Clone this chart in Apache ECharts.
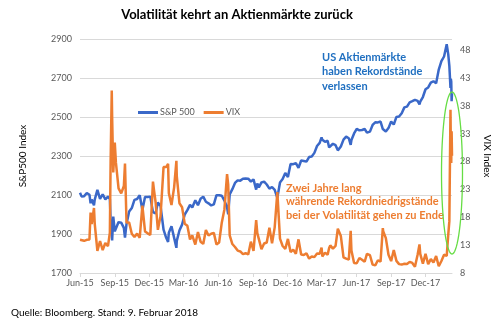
<!DOCTYPE html>
<html><head><meta charset="utf-8">
<script src="https://cdn.jsdelivr.net/npm/echarts@6/dist/echarts.min.js"></script>
<style>html,body{margin:0;padding:0;background:#fff}#c{width:500px;height:321px}</style>
</head><body><div id="c"></div>
<script>
const dates = ['2015-06-01','2015-06-05','2015-06-12','2015-06-19','2015-06-26','2015-06-29','2015-07-02','2015-07-08','2015-07-10','2015-07-17','2015-07-24','2015-07-31','2015-08-07','2015-08-14','2015-08-19','2015-08-21','2015-08-24','2015-08-25','2015-08-28','2015-09-01','2015-09-04','2015-09-11','2015-09-18','2015-09-25','2015-09-28','2015-10-02','2015-10-09','2015-10-16','2015-10-23','2015-10-30','2015-11-06','2015-11-13','2015-11-20','2015-11-27','2015-12-04','2015-12-11','2015-12-14','2015-12-18','2015-12-24','2015-12-31',
'2016-01-08','2016-01-15','2016-01-20','2016-01-22','2016-01-29','2016-02-05','2016-02-11','2016-02-12','2016-02-19','2016-02-26','2016-03-04','2016-03-11','2016-03-18','2016-03-24','2016-04-01','2016-04-08','2016-04-15','2016-04-22','2016-04-29','2016-05-06','2016-05-13','2016-05-20','2016-05-27','2016-06-03','2016-06-10','2016-06-17','2016-06-24','2016-06-27','2016-07-01','2016-07-08','2016-07-15','2016-07-22','2016-07-29','2016-08-05','2016-08-12','2016-08-19','2016-08-26','2016-09-02','2016-09-09','2016-09-12','2016-09-16','2016-09-23','2016-09-30','2016-10-07','2016-10-14','2016-10-21','2016-10-28','2016-11-04','2016-11-11','2016-11-18','2016-11-25','2016-12-02','2016-12-09','2016-12-16','2016-12-23','2016-12-30',
'2017-01-06','2017-01-13','2017-01-20','2017-01-27','2017-02-03','2017-02-10','2017-02-17','2017-02-24','2017-03-01','2017-03-03','2017-03-10','2017-03-17','2017-03-21','2017-03-24','2017-03-31','2017-04-07','2017-04-13','2017-04-21','2017-04-28','2017-05-05','2017-05-12','2017-05-17','2017-05-19','2017-05-26','2017-06-02','2017-06-09','2017-06-16','2017-06-23','2017-06-29','2017-06-30','2017-07-07','2017-07-14','2017-07-21','2017-07-28','2017-08-04','2017-08-10','2017-08-11','2017-08-18','2017-08-25','2017-09-01','2017-09-08','2017-09-15','2017-09-22','2017-09-29','2017-10-06','2017-10-13','2017-10-20','2017-10-27','2017-11-03','2017-11-10','2017-11-15','2017-11-17','2017-11-24','2017-12-01','2017-12-08','2017-12-15','2017-12-22','2017-12-29',
'2018-01-05','2018-01-12','2018-01-19','2018-01-26','2018-01-30','2018-02-02','2018-02-05','2018-02-06','2018-02-07','2018-02-08','2018-02-09'];
const spx = [2111.73,2092.83,2094.11,2109.99,2101.49,2057.64,2076.78,2046.68,2076.62,2126.64,2079.65,2103.84,2077.57,2091.54,2079.61,1970.89,1893.21,1867.61,1988.87,1913.85,1921.22,1961.05,1958.03,1931.34,1881.77,1951.36,2014.89,2033.11,2075.15,2079.36,2099.20,2023.04,2089.17,2090.11,2091.69,2012.37,2021.94,2005.55,2060.99,2043.94,
1922.03,1880.33,1859.33,1906.90,1940.24,1880.05,1829.08,1864.78,1917.78,1948.05,1999.99,2022.19,2049.58,2035.94,2072.78,2047.60,2080.73,2091.58,2065.30,2057.14,2046.61,2052.32,2099.06,2099.13,2096.07,2071.22,2037.41,2000.54,2102.95,2129.90,2161.74,2175.03,2173.60,2182.87,2184.05,2183.87,2169.04,2179.98,2127.81,2159.04,2139.16,2164.69,2168.27,2153.74,2132.98,2141.16,2126.41,2085.18,2164.45,2181.90,2213.35,2191.95,2259.53,2258.07,2263.79,2238.83,
2276.98,2274.64,2271.31,2294.69,2297.42,2316.10,2351.16,2367.34,2395.96,2383.12,2372.60,2378.25,2344.02,2343.98,2362.72,2355.54,2328.95,2348.69,2384.20,2399.29,2390.90,2357.03,2381.73,2415.82,2439.07,2431.77,2433.15,2438.30,2419.70,2423.41,2425.18,2459.27,2472.54,2472.10,2476.83,2438.21,2441.32,2425.55,2443.05,2476.55,2461.43,2500.23,2502.22,2519.36,2549.33,2553.17,2575.21,2581.07,2587.84,2582.30,2564.62,2578.85,2602.42,2642.22,2651.50,2675.81,2683.34,2673.61,
2743.15,2786.24,2810.30,2872.87,2822.43,2762.13,2648.94,2695.14,2681.66,2581.00,2619.55];
const vix = [13.97,14.21,13.78,13.96,14.02,18.85,16.79,19.66,16.83,11.95,13.74,12.12,13.39,12.83,15.25,28.03,40.74,36.02,26.05,31.40,27.80,23.20,22.28,23.62,27.63,17.08,17.08,15.05,14.46,15.07,14.33,20.08,15.47,15.12,14.81,24.39,22.73,20.70,15.74,18.21,
27.01,27.02,27.59,22.34,20.20,23.38,28.14,25.40,20.53,19.81,16.86,16.50,14.02,14.74,13.10,15.36,13.62,13.22,15.70,14.72,15.04,15.20,13.12,13.47,17.03,19.41,25.76,23.85,14.77,13.20,12.67,12.02,11.87,11.39,11.55,11.34,13.63,11.98,17.50,15.16,15.37,12.29,13.29,13.48,16.12,13.34,16.19,22.51,14.17,12.85,12.34,14.12,11.75,12.20,11.44,14.04,
11.32,11.23,11.54,10.58,10.97,10.85,11.49,11.47,12.54,10.96,11.66,11.28,12.47,12.96,12.37,12.87,15.96,14.63,10.82,10.57,10.40,15.59,12.04,9.81,9.75,10.70,10.38,10.02,11.44,11.18,11.19,9.51,9.36,10.29,10.03,16.04,15.51,14.26,11.28,10.13,12.12,10.17,9.59,9.51,9.65,9.61,10.00,9.80,9.14,11.29,13.13,11.43,9.67,11.43,9.58,10.49,9.90,11.04,
9.22,10.16,11.27,11.08,14.79,17.31,37.32,29.98,27.73,33.46,29.06];
const tickDates = ['2015-06-01','2015-09-01','2015-12-01','2016-03-01','2016-06-01','2016-09-01','2016-12-01','2017-03-01','2017-06-01','2017-09-01','2017-12-01'];
const tickLabels = ['Jun-15','Sep-15','Dec-15','Mar-16','Jun-16','Sep-16','Dec-16','Mar-17','Jun-17','Sep-17','Dec-17'];
const seriesNames = ['S&P 500','VIX'];

function ts(s){const p=s.split('-').map(Number);return Date.UTC(p[0],p[1]-1,p[2]);}
const tickTs = tickDates.map(ts);
const labelMap = {}; tickTs.forEach((t,i)=>labelMap[t]=tickLabels[i]);

const FONT = 'Lato';
const chart = echarts.init(document.getElementById('c'));
const ex = 452, ey = 173, rx = 10.5, ry = 81;
const ell = [];
for (let i=0;i<72;i++){const a=i/72*Math.PI*2;ell.push([ex+rx*Math.cos(a), ey+ry*Math.sin(a)]);}

chart.setOption({
  animation:false,
  textStyle:{fontFamily:FONT},
  grid:{left:80,right:47,top:39,bottom:48},
  legend:{left:133,top:103,icon:'rect',itemWidth:20,itemHeight:3,itemGap:9,
    textStyle:{fontFamily:FONT,fontSize:9,color:'#595959',padding:[0,0,0,-3]},data:seriesNames},
  xAxis:{type:'value',min:ts('2015-06-01'),max:ts('2018-02-09'),
    axisLine:{lineStyle:{color:'#D9D9D9',width:1}},
    axisTick:{show:true,length:4,lineStyle:{color:'#D9D9D9'},customValues:tickTs},
    axisLabel:{customValues:tickTs,formatter:v=>labelMap[v]||'',fontSize:9,color:'#595959',margin:6,fontFamily:FONT},
    splitLine:{show:false}},
  yAxis:[{type:'value',min:1700,max:2900,interval:200,
      name:'S&P500 Index',nameLocation:'middle',nameRotate:90,nameGap:52,
      nameTextStyle:{fontFamily:FONT,fontSize:10,color:'#000'},
      axisLine:{show:false},axisTick:{show:false},
      axisLabel:{fontSize:9,color:'#595959',margin:8,fontFamily:FONT,formatter:v=>String(v)},
      splitLine:{lineStyle:{color:'#D9D9D9',width:1}}},
    {type:'value',min:8,max:50,interval:5,position:'right',
      name:'VIX Index',nameLocation:'middle',nameRotate:-90,nameGap:30,
      nameTextStyle:{fontFamily:FONT,fontSize:10,color:'#000'},
      axisLine:{show:false},axisTick:{show:false},
      axisLabel:{fontSize:9,color:'#595959',margin:8,fontFamily:FONT,showMaxLabel:false,
        formatter:v=>v===50?'':String(v)},
      splitLine:{show:false}}],
  series:[
    {name:seriesNames[0],type:'line',yAxisIndex:0,symbol:'none',
      lineStyle:{color:'#3A68C8',width:2.5},itemStyle:{color:'#3A68C8'},
      data:dates.map((d,i)=>[ts(d),spx[i]])},
    {name:seriesNames[1],type:'line',yAxisIndex:1,symbol:'none',
      lineStyle:{color:'#ED7D31',width:2.5},itemStyle:{color:'#ED7D31'},
      data:dates.map((d,i)=>[ts(d),vix[i]])}
  ],
  graphic:[
    {type:'text',x:237,y:15,style:{text:'Volatilität kehrt an Aktienmärkte zurück',align:'center',verticalAlign:'middle',
      font:'bold 13px '+FONT,fill:'#000'}},
    {type:'text',x:322,y:50,style:{text:'US Aktienmärkte\nhaben Rekordstände\nverlassen',lineHeight:14.5,
      font:'bold 11px '+FONT,fill:'#1F6FC0'}},
    {type:'text',x:286,y:182,style:{text:'Zwei Jahre lang\nwährende Rekordniedrigstände\nbei der Volatilität gehen zu Ende',lineHeight:13.3,
      font:'bold 11px '+FONT,fill:'#ED7D31'}},
    {type:'polygon',shape:{points:ell},style:{fill:'none',stroke:'#66DD44',lineWidth:1.3},z:100},
    {type:'text',x:11,y:313,style:{text:'Quelle: Bloomberg. Stand: 9. Februar 2018',verticalAlign:'middle',
      font:'10px '+FONT,fill:'#000'}}
  ]
});
</script></body></html>
